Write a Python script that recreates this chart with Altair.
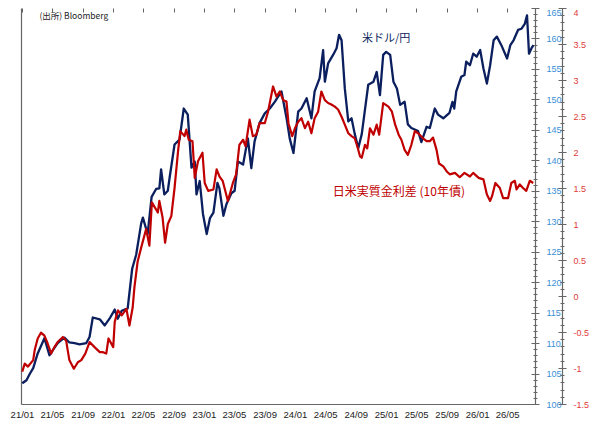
import altair as alt
import pandas as pd

# ---------------- data ----------------
usd_dates = [
    "2021-01-02", "2021-01-19", "2021-02-02", "2021-02-15", "2021-03-05", "2021-04-01",
    "2021-04-21", "2021-05-04", "2021-05-24", "2021-06-20", "2021-07-10", "2021-07-31",
    "2021-08-20", "2021-09-16", "2021-09-29", "2021-10-12", "2021-11-09", "2021-11-29",
    "2021-12-18", "2022-01-08", "2022-01-20", "2022-02-05", "2022-03-01", "2022-03-19",
    "2022-04-04", "2022-04-24", "2022-05-01", "2022-05-20", "2022-06-05", "2022-06-23",
    "2022-07-06", "2022-07-13", "2022-07-26", "2022-08-09", "2022-08-16", "2022-09-05",
    "2022-09-25", "2022-10-12", "2022-10-28", "2022-11-12", "2022-11-25", "2022-12-02",
    "2022-12-15", "2022-12-28", "2023-01-12", "2023-01-25", "2023-02-08", "2023-02-24",
    "2023-03-04", "2023-03-20", "2023-04-01", "2023-04-21", "2023-05-04", "2023-05-17",
    "2023-06-07", "2023-06-26", "2023-07-10", "2023-07-23", "2023-08-12", "2023-09-02",
    "2023-09-22", "2023-10-12", "2023-11-08", "2023-11-28", "2023-12-11", "2023-12-26",
    "2024-01-14", "2024-01-27", "2024-02-17", "2024-03-07", "2024-03-20", "2024-04-09",
    "2024-04-23", "2024-04-30", "2024-05-13", "2024-06-02", "2024-06-16", "2024-06-26",
    "2024-07-06", "2024-07-19", "2024-08-02", "2024-08-15", "2024-08-28", "2024-09-11",
    "2024-09-25", "2024-10-21", "2024-11-11", "2024-11-24", "2024-12-07", "2024-12-20",
    "2025-01-01", "2025-01-17", "2025-01-30", "2025-02-13", "2025-02-26", "2025-03-16",
    "2025-03-29", "2025-04-12", "2025-05-09", "2025-05-22", "2025-06-12", "2025-06-25",
    "2025-07-15", "2025-07-28", "2025-08-18", "2025-09-12", "2025-09-24", "2025-10-01",
    "2025-10-09", "2025-10-29", "2025-11-11", "2025-11-18", "2025-12-03", "2025-12-16",
    "2025-12-30", "2026-01-13", "2026-01-26", "2026-02-09", "2026-02-22", "2026-03-08",
    "2026-03-21", "2026-04-08", "2026-05-01", "2026-05-14", "2026-05-27", "2026-06-14",
    "2026-06-28", "2026-07-11", "2026-07-20", "2026-07-28", "2026-08-07", "2026-08-15",
]
usd_values = [
    103.4, 103.9, 105.0, 105.9, 108.3, 110.8,
    108.0, 108.8, 110.0, 110.9, 110.1, 110.0,
    109.8, 110.0, 111.0, 114.2, 113.9, 112.9,
    114.0, 115.5, 114.0, 115.3, 115.7, 122.2,
    124.5, 129.6, 130.6, 127.9, 134.0, 135.3,
    135.4, 138.5, 134.4, 135.0, 137.1, 142.6,
    143.4, 148.5, 147.5, 138.8, 139.8, 134.4,
    136.6, 131.2, 127.9, 130.5, 131.4, 136.3,
    135.4, 130.9, 132.8, 134.6, 135.0, 139.8,
    139.3, 143.6, 138.7, 143.1, 146.1, 147.7,
    148.5, 149.6, 151.3, 147.0, 143.6, 141.2,
    148.0, 148.5, 150.2, 146.9, 151.3, 153.5,
    158.1, 152.9, 155.9, 157.3, 158.4, 160.6,
    159.7, 151.8, 146.4, 146.9, 144.3, 142.0,
    144.3, 152.4, 152.9, 154.5, 150.7, 157.3,
    157.8, 157.3, 152.9, 151.8, 149.1, 149.6,
    145.9, 145.3, 144.8, 143.0, 145.5, 145.3,
    148.5, 147.5, 146.9, 147.8, 149.6, 148.5,
    151.3, 153.7, 154.0, 156.2, 155.6, 157.5,
    157.0, 158.1, 155.1, 152.6, 155.6, 159.7,
    160.3, 158.9, 156.7, 158.9, 159.7, 161.4,
    161.6, 162.4, 163.8, 157.5, 158.4, 158.9,
]

spread_dates = [
    "2021-01-02", "2021-01-12", "2021-01-25", "2021-02-15", "2021-02-21", "2021-03-05",
    "2021-03-18", "2021-04-01", "2021-04-14", "2021-04-28", "2021-05-11", "2021-05-24",
    "2021-06-14", "2021-06-27", "2021-07-10", "2021-07-28", "2021-08-13", "2021-08-27",
    "2021-09-12", "2021-09-29", "2021-10-19", "2021-11-09", "2021-11-22", "2021-12-05",
    "2021-12-14", "2022-01-02", "2022-01-08", "2022-01-21", "2022-02-05", "2022-02-24",
    "2022-03-08", "2022-03-21", "2022-03-28", "2022-04-10", "2022-04-27", "2022-05-14",
    "2022-05-27", "2022-06-06", "2022-06-30", "2022-07-06", "2022-07-19", "2022-07-29",
    "2022-08-09", "2022-08-23", "2022-09-05", "2022-09-19", "2022-09-28", "2022-10-15",
    "2022-10-22", "2022-11-01", "2022-11-16", "2022-11-25", "2022-12-08", "2022-12-26",
    "2023-01-04", "2023-01-18", "2023-02-08", "2023-02-21", "2023-03-04", "2023-03-17",
    "2023-04-07", "2023-04-27", "2023-05-10", "2023-05-23", "2023-06-07", "2023-06-17",
    "2023-07-03", "2023-07-16", "2023-07-30", "2023-08-12", "2023-09-02", "2023-09-15",
    "2023-10-05", "2023-10-19", "2023-11-01", "2023-11-15", "2023-11-28", "2023-12-06",
    "2023-12-21", "2024-01-01", "2024-01-14", "2024-01-27", "2024-02-10", "2024-02-23",
    "2024-03-07", "2024-03-20", "2024-04-03", "2024-04-16", "2024-04-30", "2024-05-13",
    "2024-05-26", "2024-06-09", "2024-06-22", "2024-07-06", "2024-07-19", "2024-08-02",
    "2024-08-15", "2024-08-28", "2024-09-07", "2024-09-18", "2024-09-25", "2024-10-08",
    "2024-10-17", "2024-10-28", "2024-11-11", "2024-11-24", "2024-12-04", "2024-12-20",
    "2025-01-10", "2025-01-24", "2025-02-06", "2025-02-20", "2025-03-03", "2025-03-16",
    "2025-03-29", "2025-04-12", "2025-04-26", "2025-05-09", "2025-05-29", "2025-06-12",
    "2025-06-25", "2025-07-08", "2025-07-22", "2025-08-01", "2025-08-18", "2025-09-01",
    "2025-09-13", "2025-10-04", "2025-10-23", "2025-11-11", "2025-12-03", "2025-12-16",
    "2026-01-07", "2026-01-26", "2026-02-09", "2026-02-22", "2026-03-02", "2026-03-15",
    "2026-04-02", "2026-04-15", "2026-05-05", "2026-05-18", "2026-06-01", "2026-06-08",
    "2026-06-21", "2026-07-04", "2026-07-17", "2026-07-31", "2026-08-14",
]
spread_values = [
    -1.05, -0.94, -0.98, -0.89, -0.75, -0.59,
    -0.51, -0.55, -0.66, -0.80, -0.71, -0.64,
    -0.57, -0.62, -0.89, -1.01, -0.92, -0.89,
    -0.80, -0.64, -0.71, -0.78, -0.78, -0.80,
    -0.59, -0.71, -0.36, -0.20, -0.27, -0.18,
    -0.41, -0.16, 0.12, 0.48, 0.71, 0.93,
    0.70, 1.30, 1.16, 1.32, 1.09, 0.74,
    1.00, 1.11, 1.50, 2.01, 2.29, 2.22,
    2.31, 2.17, 2.15, 1.64, 1.87, 1.99,
    1.57, 1.46, 1.48, 1.76, 1.66, 1.60,
    1.32, 1.57, 1.69, 2.10, 2.17, 2.08,
    2.45, 2.22, 2.24, 2.40, 2.40, 2.56,
    2.91, 2.77, 2.84, 2.72, 2.70, 2.40,
    2.22, 2.33, 2.42, 2.47, 2.33, 2.42,
    2.26, 2.47, 2.56, 2.84, 2.72, 2.68,
    2.66, 2.63, 2.59, 2.49, 2.38, 2.26,
    2.22, 2.19, 2.08, 1.94, 1.92, 2.10,
    2.05, 2.33, 2.24, 2.38, 2.24, 2.68,
    2.63, 2.56, 2.38, 2.24, 2.17, 2.03,
    1.96, 2.10, 2.29, 2.26, 2.19, 2.15,
    2.15, 2.20, 2.03, 1.84, 1.80, 1.73,
    1.69, 1.71, 1.65, 1.71, 1.66, 1.71,
    1.64, 1.62, 1.41, 1.32, 1.39, 1.57,
    1.50, 1.36, 1.36, 1.57, 1.60, 1.48,
    1.55, 1.50, 1.46, 1.60, 1.57,
]

x_tick_months = [(2021, 1), (2021, 5), (2021, 9), (2022, 1), (2022, 5), (2022, 9),
                 (2023, 1), (2023, 5), (2023, 9), (2024, 1), (2024, 5), (2024, 9),
                 (2025, 1), (2025, 5), (2025, 9), (2026, 1), (2026, 5)]
usd_major_ticks = [100, 105, 110, 115, 120, 125, 130, 135, 140, 145, 150, 155, 160, 165]
usd_minor_ticks = list(range(100, 166))
spread_major_ticks = [-1.5, -1, -0.5, 0, 0.5, 1, 1.5, 2, 2.5, 3, 3.5, 4]
spread_minor_ticks = [round(-1.5 + 0.1 * i, 1) for i in range(56)]

source_label = ["(出所) Bloomberg"]
usd_label = ["米ドル/円"]
spread_label = ["日米実質金利差 (10年債)"]

# ---------------- tables ----------------
usd_df = pd.DataFrame({"date": usd_dates, "usd": usd_values})
spread_df = pd.DataFrame({"date": spread_dates, "spread": spread_values})
src_df = pd.DataFrame({"date": ["2021-03-12"], "value": [163.7], "label": source_label})
usd_lab_df = pd.DataFrame({"date": ["2024-09-26"], "value": [159.9], "label": usd_label})
spr_lab_df = pd.DataFrame({"date": ["2024-06-01"], "value": [134.8], "label": spread_label})

# ---------------- styling ----------------
NAVY = "#0b1f5e"
RED = "#c00000"
BLUE_LBL = "#3a8fd6"
RED_LBL = "#e03a3a"
AXIS_GREY = "#666666"
LFONT = "Liberation Sans"
CJK = "Noto Sans CJK JP"

x_scale = alt.Scale(
    type="utc",
    domain=[alt.DateTime(year=2020, month=12, date=28, utc=True),
            alt.DateTime(year=2026, month=8, date=21, utc=True)],
)
usd_scale = alt.Scale(domain=[100, 165], nice=False, zero=False)
spr_scale = alt.Scale(domain=[-1.5, 4], nice=False, zero=False)
x_tick_values = [alt.DateTime(year=y, month=m, date=1, utc=True) for y, m in x_tick_months]

usd_top_baseline = {"condition": {"test": "datum.value >= 165", "value": "top"}, "value": "middle"}
spr_top_baseline = {"condition": {"test": "datum.value >= 4", "value": "top"}, "value": "middle"}


def x_enc(axis):
    return alt.X("date:T", scale=x_scale, title=None, axis=axis)


# blue line with main x axis (labels + domain) and blue label axis
usd_line = alt.Chart(usd_df).mark_line(color=NAVY, strokeWidth=2.3, strokeJoin="round").encode(
    x=x_enc(alt.Axis(values=x_tick_values, labelExpr="utcFormat(datum.value, '%y/%m')",
                     ticks=False, domainColor=AXIS_GREY, domainWidth=1.2, grid=False,
                     labelFont=LFONT, labelFontSize=9.5, labelColor="#222222",
                     labelPadding=5, labelFlush=False, labelOverlap=False)),
    y=alt.Y("usd:Q", scale=usd_scale, title=None,
            axis=alt.Axis(orient="right", values=usd_major_ticks, ticks=False,
                          domainColor=AXIS_GREY, domainWidth=1.2, grid=False,
                          labelColor=BLUE_LBL, labelFont=LFONT, labelFontSize=9,
                          labelPadding=11, labelAlign="left", labelFlush=False,
                          labelOverlap=False, labelBaseline=usd_top_baseline)),
)

# blue major ticks (crossing) + inward x ticks
usd_major = alt.Chart(usd_df).mark_line(opacity=0).encode(
    x=x_enc(alt.Axis(values=x_tick_values, offset=-4, tickSize=4, domain=False,
                     labels=False, grid=False, tickColor=AXIS_GREY)),
    y=alt.Y("usd:Q", scale=usd_scale, title=None,
            axis=alt.Axis(orient="right", values=usd_major_ticks, offset=-4, tickSize=8,
                          domain=False, labels=False, grid=False, tickColor=AXIS_GREY)),
)

# blue minor ticks
usd_minor = alt.Chart(usd_df).mark_line(opacity=0).encode(
    x=x_enc(None),
    y=alt.Y("usd:Q", scale=usd_scale, title=None,
            axis=alt.Axis(orient="right", values=usd_minor_ticks, offset=-2, tickSize=4,
                          domain=False, labels=False, grid=False, tickColor=AXIS_GREY)),
)

# red line with red label axis
spr_line = alt.Chart(spread_df).mark_line(color=RED, strokeWidth=2.2, strokeJoin="round").encode(
    x=x_enc(None),
    y=alt.Y("spread:Q", scale=spr_scale, title=None,
            axis=alt.Axis(orient="right", offset=27, values=spread_major_ticks, ticks=False,
                          labelExpr="'' + datum.value",
                          domainColor=AXIS_GREY, domainWidth=1.2, grid=False,
                          labelColor=RED_LBL, labelFont=LFONT, labelFontSize=9,
                          labelPadding=11, labelAlign="left", labelFlush=False,
                          labelOverlap=False, labelBaseline=spr_top_baseline)),
)

spr_major = alt.Chart(spread_df).mark_line(opacity=0).encode(
    x=x_enc(None),
    y=alt.Y("spread:Q", scale=spr_scale, title=None,
            axis=alt.Axis(orient="right", offset=23, values=spread_major_ticks, tickSize=8,
                          domain=False, labels=False, grid=False, tickColor=AXIS_GREY)),
)

spr_minor = alt.Chart(spread_df).mark_line(opacity=0).encode(
    x=x_enc(None),
    y=alt.Y("spread:Q", scale=spr_scale, title=None,
            axis=alt.Axis(orient="right", offset=25, values=spread_minor_ticks, tickSize=4,
                          domain=False, labels=False, grid=False, tickColor=AXIS_GREY)),
)

# annotations (the source text layer also carries the left border line)
src_text = alt.Chart(src_df).mark_text(align="left", baseline="middle", font=CJK,
                                       fontSize=8.5, color="#222222").encode(
    x=x_enc(None),
    y=alt.Y("value:Q", scale=usd_scale, title=None,
            axis=alt.Axis(orient="left", ticks=False, labels=False, grid=False,
                          domainColor=AXIS_GREY, domainWidth=1.2)),
    text="label:N",
)

usd_text = alt.Chart(usd_lab_df).mark_text(align="left", baseline="middle", font=CJK,
                                           fontSize=11, color=NAVY).encode(
    x=x_enc(None),
    y=alt.Y("value:Q", scale=usd_scale, axis=None),
    text="label:N",
)

spr_text = alt.Chart(spr_lab_df).mark_text(align="left", baseline="middle", font=CJK,
                                           fontSize=12, color=RED).encode(
    x=x_enc(None),
    y=alt.Y("value:Q", scale=usd_scale, axis=None),
    text="label:N",
)

chart = (
    alt.layer(usd_line, usd_major, usd_minor, spr_line, spr_major, spr_minor,
              src_text, usd_text, spr_text)
    .resolve_scale(x="independent", y="independent")
    .properties(
        width=514,
        height=396,
        padding={"left": 13, "top": 0, "right": 60, "bottom": 20},
        autosize=alt.AutoSizeParams(type="none"),
    )
    .configure_view(stroke=None)
)

chart.save("out.html", embed_options={"renderer": "svg", "actions": False})
